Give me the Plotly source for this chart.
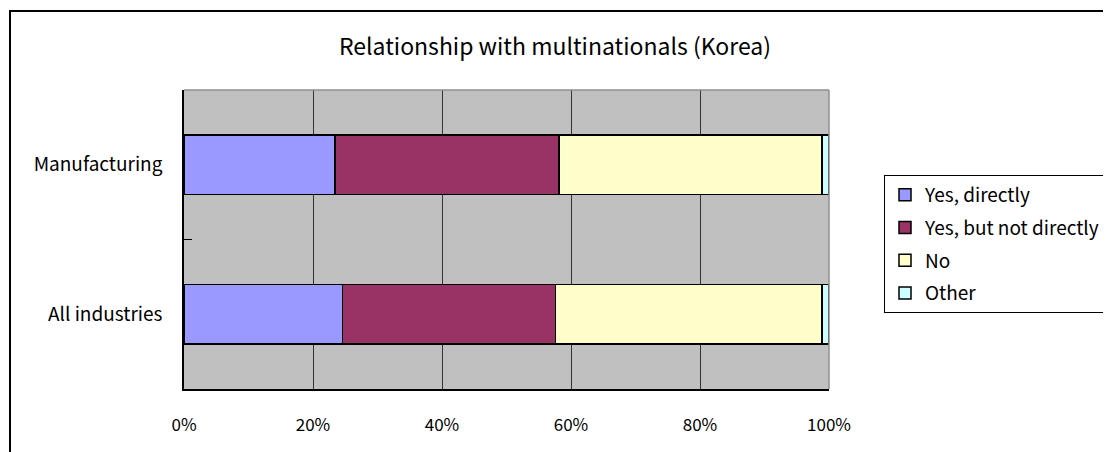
import plotly.graph_objects as go

categories = ["All industries", "Manufacturing"]
yes_directly = [24.6, 23.4]
yes_not_directly = [33.0, 34.7]
no = [41.3, 40.8]
other = [1.1, 1.1]

series_names = ["Yes, directly", "Yes, but not directly", "No", "Other"]
series_values = [yes_directly, yes_not_directly, no, other]
colors = ["#9999FF", "#993366", "#FFFFCC", "#CCFFFF"]
tick_vals = [0, 20, 40, 60, 80, 100]
tick_text = ["0%", "20%", "40%", "60%", "80%", "100%"]

FONT = "Noto Sans CJK JP"
OFF = 8  # page body margin offset

W, H = 1111, 452
pw, ph = 645, 299
L = 184 - OFF
T = 90 - OFF
R = W - L - pw
B = H - T - ph

fig = go.Figure()
for name, vals, col in zip(series_names, series_values, colors):
    fig.add_trace(go.Bar(
        y=categories, x=vals, name=name, orientation="h", legendgroup=name,
        marker=dict(color=col, line=dict(color="black", width=1.5)),
    ))

fig.update_layout(
    width=W, height=H,
    margin=dict(l=L, r=R, t=T, b=B),
    barmode="stack", bargap=0.6,
    paper_bgcolor="white", plot_bgcolor="#C0C0C0",
    font=dict(family=FONT, color="black", size=17),
    title=dict(text="Relationship with multinationals (Korea)", x=(555 - OFF) / W, xanchor="center",
               y=1 - (47 - OFF) / H, yanchor="middle", font=dict(size=23, family=FONT)),
    legend=dict(x=(884 - OFF - L) / pw, xanchor="left", y=1 - (175 - OFF - T) / ph, yanchor="top",
                bordercolor="black", borderwidth=1, bgcolor="white",
                font=dict(size=19, family=FONT), traceorder="grouped", tracegroupgap=5),
    showlegend=True,
)
fig.update_xaxes(range=[0, 100], tickvals=tick_vals, ticktext=tick_text,
                 showgrid=True, gridcolor="#333333", gridwidth=1,
                 showline=True, linecolor="black", linewidth=1.5,
                 ticks="", zeroline=False, ticklabelstandoff=20,
                 tickfont=dict(size=17))
fig.update_yaxes(categoryorder="array", categoryarray=categories,
                 showline=True, linecolor="black", linewidth=1.5,
                 ticks="inside", tickson="boundaries", ticklen=8, tickcolor="black",
                 showgrid=False, ticklabelstandoff=16, tickfont=dict(size=19))

# top and right plot border (light gray)
fig.add_shape(type="line", xref="paper", yref="paper", x0=0, x1=1, y0=1, y1=1,
              line=dict(color="#909090", width=1.5))
fig.add_shape(type="line", xref="paper", yref="paper", x0=1, x1=1, y0=0, y1=1,
              line=dict(color="#909090", width=1.5))
# outer chart-area border
fig.add_shape(type="rect", xref="paper", yref="paper",
              x0=(10 - OFF - L) / pw, x1=2.0, y0=-1.0, y1=1 + (T - (11 - OFF)) / ph,
              line=dict(color="black", width=2), layer="below")

fig.write_html("out.html")
